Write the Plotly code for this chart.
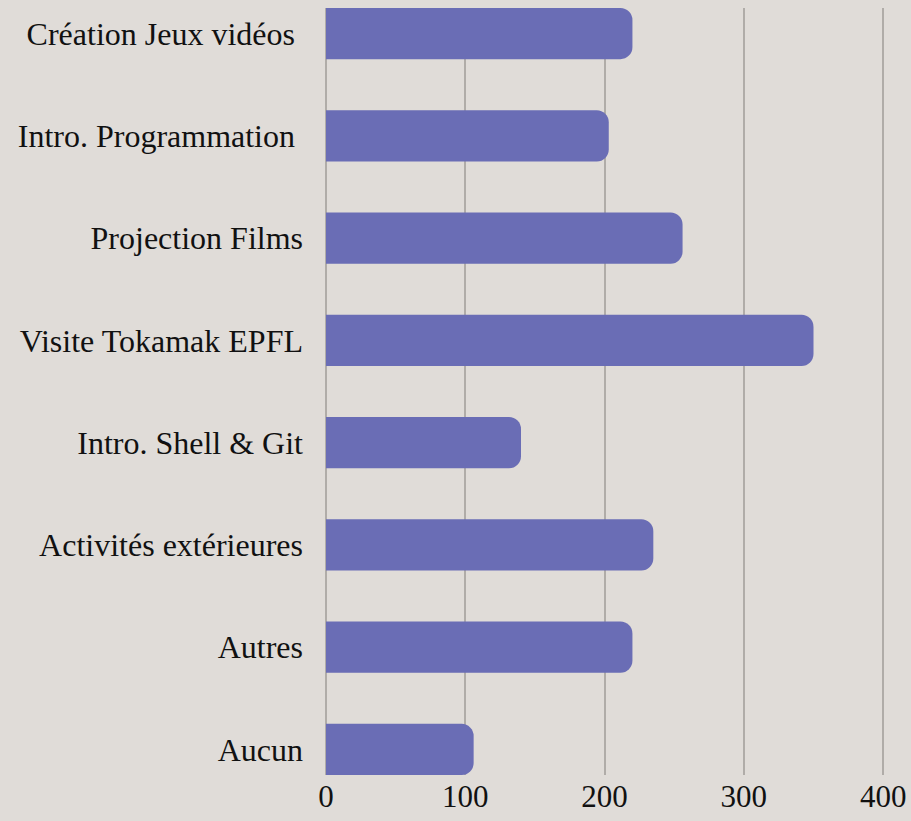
import plotly.graph_objects as go

categories = ["Création Jeux vidéos\u00a0", "Intro. Programmation\u00a0", "Projection Films",
              "Visite Tokamak EPFL", "Intro. Shell & Git", "Activités extérieures",
              "Autres", "Aucun"]
values = [220, 203, 256, 350, 140, 235, 220, 106]
x_ticks = [0, 100, 200, 300, 400]

bg = "#e0dcd8"
fig = go.Figure(go.Bar(
    y=categories, x=values, orientation="h",
    marker=dict(color="#6a6db5", line=dict(width=0)),
    width=0.5,
))
fig.update_layout(
    width=911, height=821,
    paper_bgcolor=bg, plot_bgcolor=bg,
    margin=dict(l=326, r=0, t=8, b=46),
    barcornerradius=12,
    font=dict(family="Liberation Serif, serif", size=32, color="#111111"),
    showlegend=False,
)
fig.update_xaxes(range=[0, 420], tickvals=x_ticks, showgrid=True,
                 gridcolor="#b0aca8", gridwidth=1.5, zeroline=True,
                 zerolinecolor="#b0aca8", zerolinewidth=1.5,
                 showline=False, ticks="", tickfont=dict(size=31))
fig.update_yaxes(autorange=False, range=[7.25, -0.25], categoryorder="array",
                 categoryarray=categories, showgrid=False, ticks="",
                 ticklabelstandoff=22, tickfont=dict(size=32))
fig.write_html("out.html",
               config={"displayModeBar": False},
               post_script="document.body.style.margin='0';"
                           "document.body.style.background='#e0dcd8';"
                           "document.body.style.overflow='hidden';")
